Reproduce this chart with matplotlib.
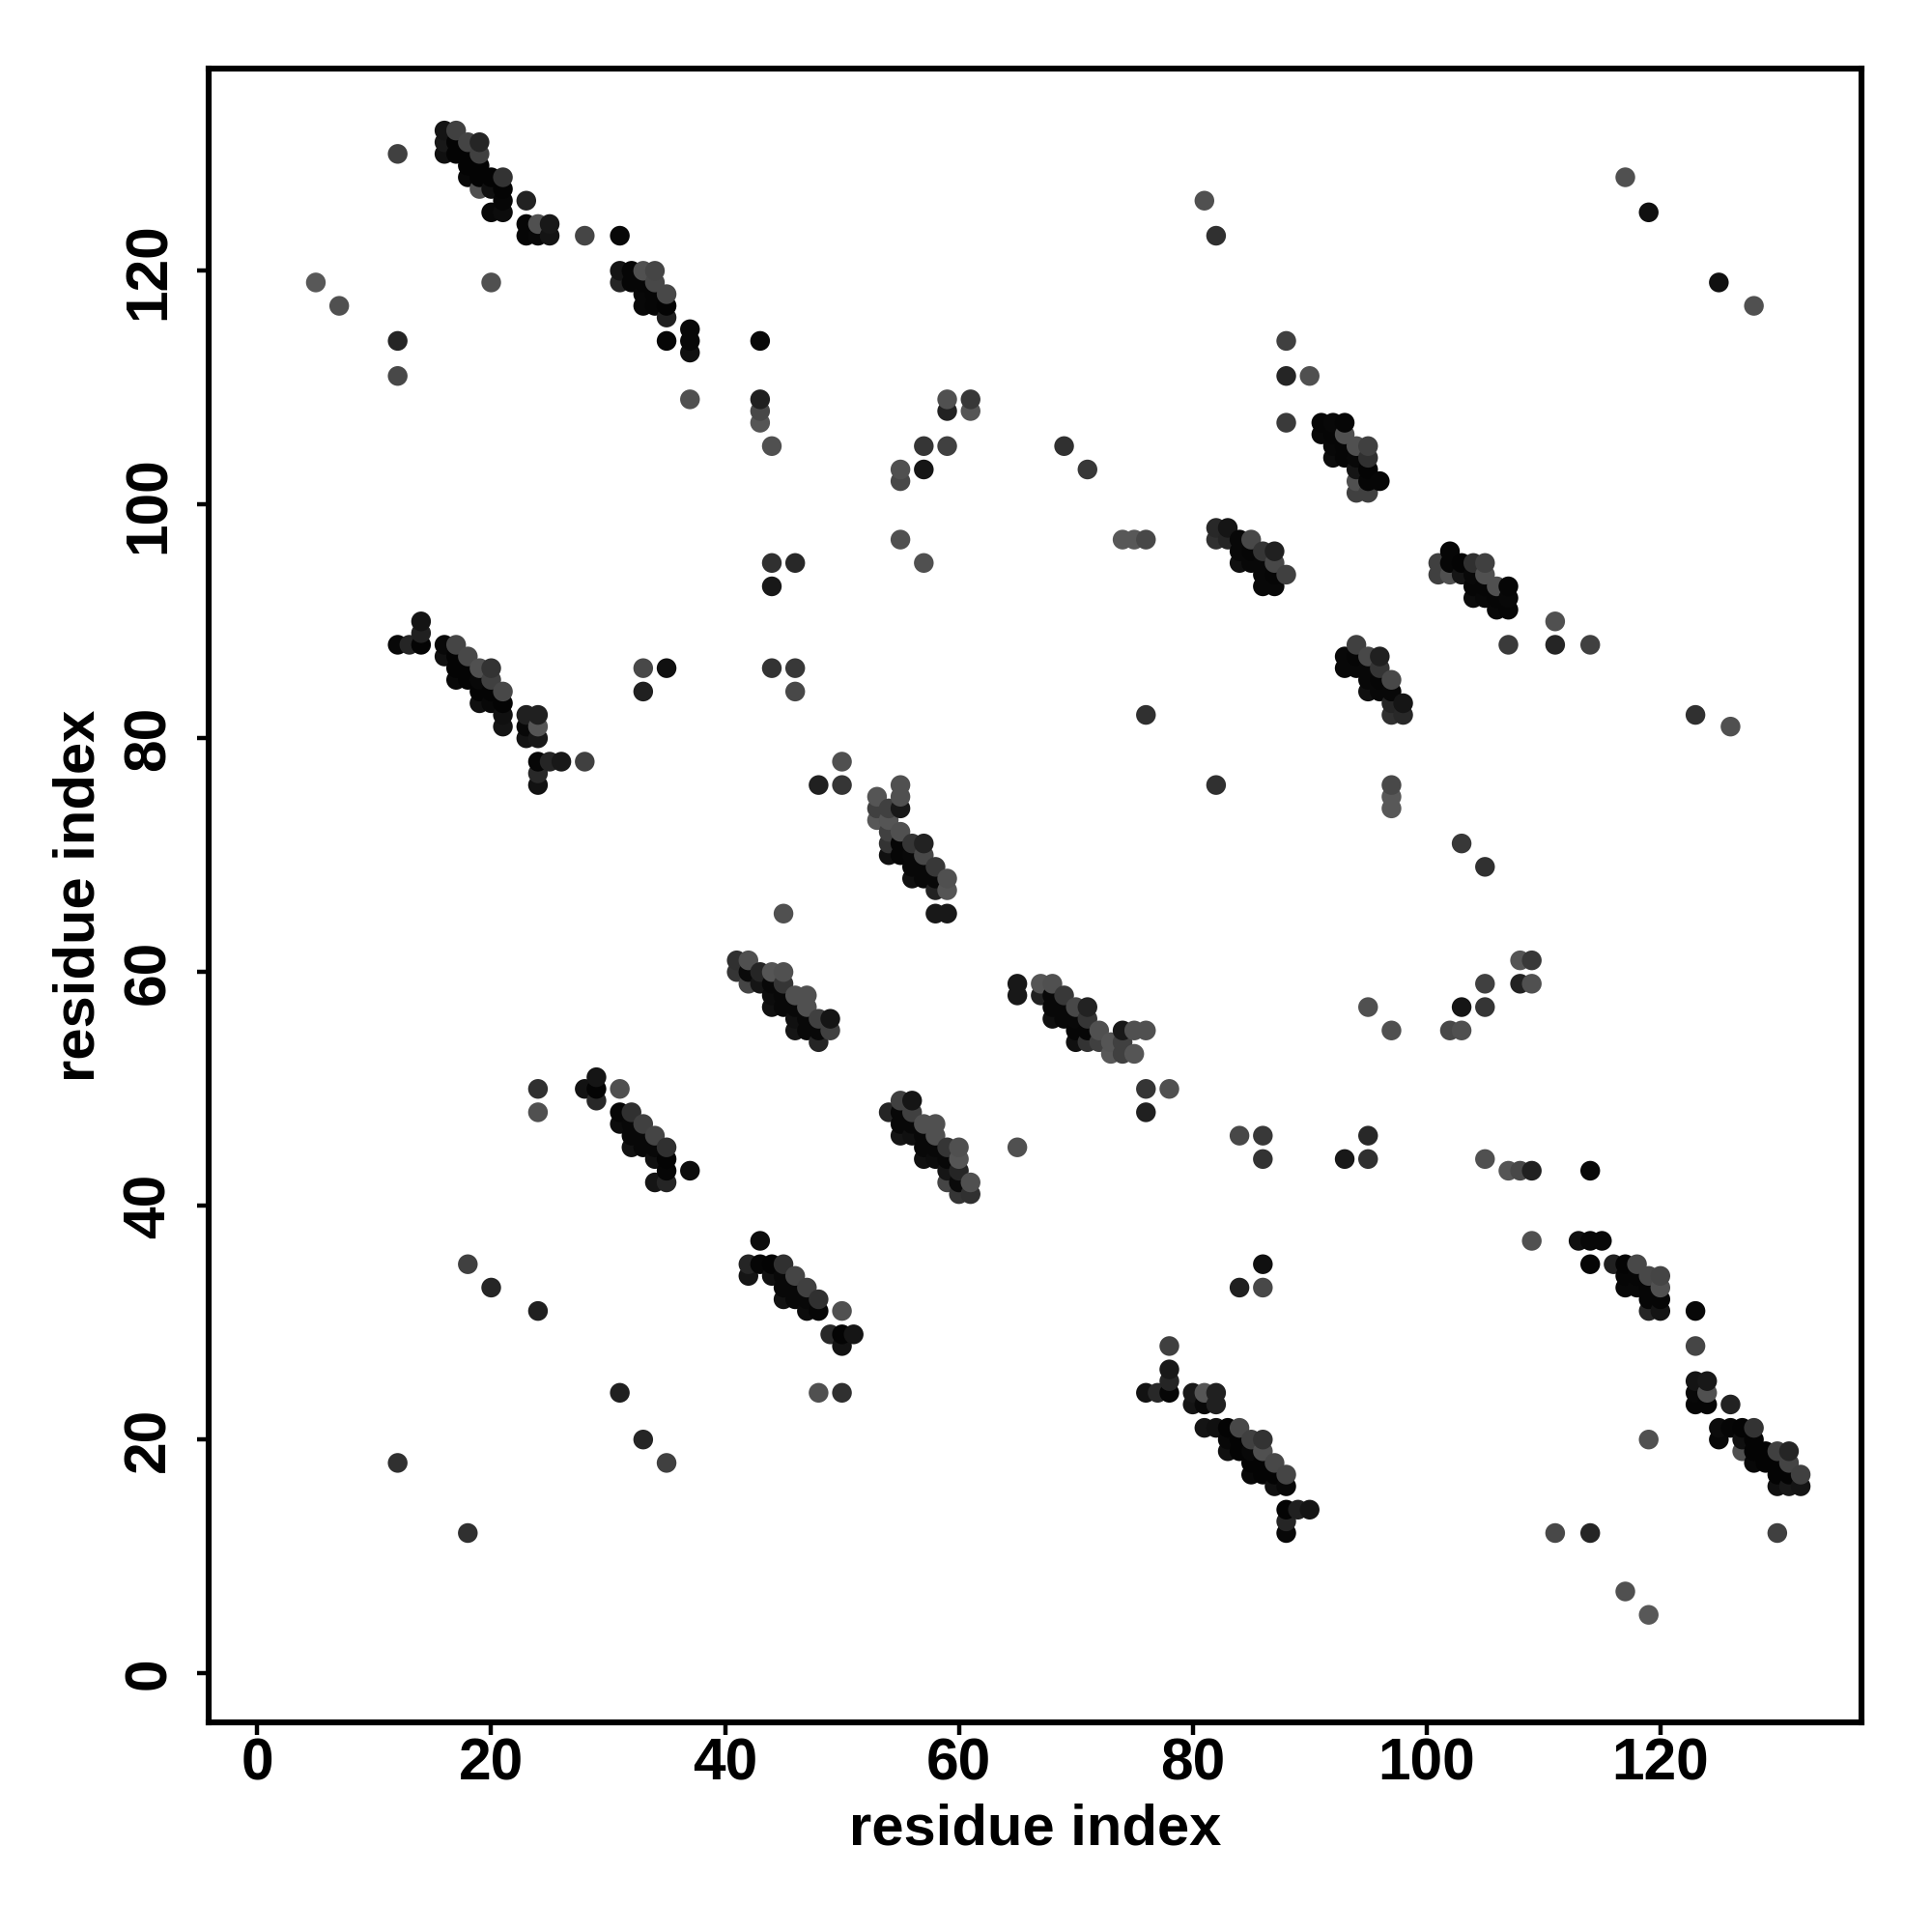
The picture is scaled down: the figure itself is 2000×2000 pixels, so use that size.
import matplotlib
matplotlib.use("Agg")
import matplotlib.pyplot as plt
import numpy as np

plt.rcParams['font.family'] = ['Liberation Sans', 'DejaVu Sans']

# Contact map: each contact (i, j) is drawn as (i, j) and (j, i)
res_i = [
 # helix pair around 16-25 / 123-132
 16,17, 16,17,18,19, 16,17,18,19, 18,19, 18,19,20,21, 19,20,21, 21,23, 20,21, 23,24,25, 23,24,25,28,31,
 # 31-37 / 113-120
 31,32,33,34, 31,32,33,34, 33,34,35, 33,34,35, 35, 37, 35,37, 37,
 # 12-28 / 76-90
 14,14,12,13,14, 16,17, 16,17,18, 17,18,19,20, 17,18,19,20, 19,20,21, 19,20,21, 21, 21,
 23,24, 23,24, 23,24, 24,25,26,28, 24, 24,
 # 41-49 / 54-61
 41,42, 41,42,43,44,45, 42,43,44,45, 44,45,46,47, 44,45,46,47, 46,47,48,49, 46,47,48,49, 48,
 # 53-59 / 65-76
 55, 53,55, 53,54,55, 53,54, 54,55, 54,55,56,57, 54,55,56,57, 56,57,58, 56,57,58,59, 58,59, 58,59,
 # 28-37 / 42-51
 29, 28,29,31, 29, 31,32, 31,32,33, 32,33,34, 32,33,34,35, 34,35, 35,37, 34,35,
 # 82-88 / 93-98
 82,83, 82,83,84,85, 84,85,86,87, 84,85,86,87, 86,87,88, 86,87,
 # 91-96 / 101-107
 88, 91,92,93, 91,92,93, 92,93,94,95, 92,93,94,95, 94,95, 94,95,96, 94,95,
 # isolated contacts
 12,5,7,12,12,12,20,37,43,43,43,43,44,44,46,44,44,46,46,33,35,33,48,50,50,45,24,24,18,20,24,
 55,55,57,57,59,59,59,61,61,55,57,69,71,74,75,76,76,81,82,88,88,90,117,119,
]
res_j = [
 132,132, 131,131,131,131, 130,130,130,130, 129,129, 128,128,128,128, 127,127,127, 126,126, 125,125, 124,124,124, 123,123,123,123,123,
 120,120,120,120, 119,119,119,119, 118,118,118, 117,117,117, 116, 115, 114,114, 113,
 90,89,88,88,88, 88,88, 87,87,87, 86,86,86,86, 85,85,85,85, 84,84,84, 83,83,83, 82, 81,
 82,82, 81,81, 80,80, 78,78,78,78, 77, 76,
 61,61, 60,60,60,60,60, 59,59,59,59, 58,58,58,58, 57,57,57,57, 56,56,56,56, 55,55,55,55, 54,
 76, 75,75, 74,74,74, 73,73, 72,72, 71,71,71,71, 70,70,70,70, 69,69,69, 68,68,68,68, 67,67, 65,65,
 51, 50,50,50, 49, 48,48, 47,47,47, 46,46,46, 45,45,45,45, 44,44, 43,43, 42,42,
 98,98, 97,97,97,97, 96,96,96,96, 95,95,95,95, 94,94,94, 93,93,
 107, 107,107,107, 106,106,106, 105,105,105,105, 104,104,104,104, 103,103, 102,102,102, 101,101,
 130,119,117,114,111,18,119,109,114,109,108,107,105,95,95,93,86,86,84,86,86,84,76,78,76,65,50,48,35,33,31,
 103,102,105,103,109,108,105,109,108,97,95,105,103,97,97,97,82,126,123,114,111,111,128,125,
]
gray_level = [
 0x14,0x40, 0x18,0x04,0x44,0x25, 0x10,0x04,0x04,0x40, 0x04,0x04, 0x08,0x04,0x04,0x33, 0x50,0x10,0x04, 0x06,0x22, 0x08,0x0c, 0x06,0x50,0x18, 0x06,0x08,0x14,0x45,0x08,
 0x14,0x06,0x50,0x45, 0x25,0x06,0x06,0x48, 0x08,0x06,0x48, 0x08,0x06,0x04, 0x20, 0x08, 0x06,0x08, 0x10,
 0x14,0x20,0x08,0x25,0x04, 0x08,0x45, 0x10,0x04,0x48, 0x04,0x04,0x50,0x33, 0x08,0x04,0x08,0x40, 0x04,0x04,0x48, 0x10,0x08,0x04, 0x10, 0x14,
 0x20,0x20, 0x08,0x55, 0x14,0x18, 0x06,0x25,0x18,0x40, 0x28, 0x12,
 0x30,0x50, 0x35,0x0a,0x25,0x55,0x50, 0x45,0x15,0x08,0x35, 0x0c,0x08,0x50,0x50, 0x10,0x08,0x08,0x50, 0x10,0x08,0x40,0x15, 0x15,0x08,0x08,0x40, 0x25,
 0x50, 0x55,0x50, 0x40,0x40,0x18, 0x58,0x55, 0x40,0x50, 0x33,0x06,0x35,0x22, 0x10,0x06,0x08,0x48, 0x08,0x08,0x38, 0x10,0x08,0x08,0x50, 0x22,0x55, 0x18,0x18,
 0x15, 0x12,0x04,0x50, 0x28, 0x06,0x30, 0x0c,0x08,0x40, 0x08,0x08,0x45, 0x12,0x08,0x08,0x30, 0x10,0x04, 0x06,0x0c, 0x15,0x25,
 0x28,0x15, 0x30,0x25,0x08,0x48, 0x08,0x06,0x35,0x20, 0x10,0x08,0x08,0x48, 0x08,0x06,0x40, 0x08,0x08,
 0x3a, 0x06,0x08,0x06, 0x08,0x06,0x50, 0x08,0x06,0x50,0x40, 0x0c,0x06,0x08,0x30, 0x15,0x04, 0x50,0x06,0x06, 0x40,0x40,
 0x40,0x58,0x50,0x25,0x48,0x30,0x50,0x50,0x08,0x20,0x48,0x55,0x50,0x30,0x28,0x18,0x33,0x38,0x48,0x48,0x10,0x20,0x20,0x50,0x35,0x50,0x30,0x50,0x40,0x25,0x20,
 0x50,0x48,0x35,0x15,0x50,0x22,0x40,0x38,0x55,0x50,0x50,0x30,0x38,0x58,0x58,0x48,0x30,0x50,0x30,0x40,0x25,0x50,0x50,0x10,
]
x_ticks = [0, 20, 40, 60, 80, 100, 120]
y_ticks = [0, 20, 40, 60, 80, 100, 120]
x_label = "residue index"
y_label = "residue index"

xs = np.array(res_i + res_j)
ys = np.array(res_j + res_i)
gs = np.array(gray_level + gray_level)
order = np.lexsort((ys, xs))
colors = [(g / 255, g / 255, g / 255) for g in gs[order]]

fig = plt.figure(figsize=(10, 10), dpi=200, facecolor='white')
ax = fig.add_axes([215.6 / 2000, 1 - 1783 / 2000, (1927 - 215.6) / 2000, (1783 - 71) / 2000])
ax.scatter(xs[order], ys[order], s=54, c=colors, linewidths=0, zorder=3)
ax.set_xlim(-4.2, 137.2)
ax.set_ylim(-4.2, 137.3)
ax.set_xticks(x_ticks)
ax.set_yticks(y_ticks)
for s in ax.spines.values():
    s.set_linewidth(2.2)
ax.tick_params(axis='x', length=4.5, width=1.6, labelsize=21.8, pad=1)
ax.tick_params(axis='y', length=4.5, width=1.6, labelsize=21.8, pad=7)
for t in ax.get_xticklabels():
    t.set_fontweight('bold')
for t in ax.get_yticklabels():
    t.set_fontweight('bold')
    t.set_rotation(90)
    t.set_va('center')
ax.set_xlabel(x_label, fontsize=21.5, fontweight='bold', labelpad=4)
ax.set_ylabel(y_label, fontsize=21.5, fontweight='bold', labelpad=6)
fig.savefig('out.png', dpi=200)
